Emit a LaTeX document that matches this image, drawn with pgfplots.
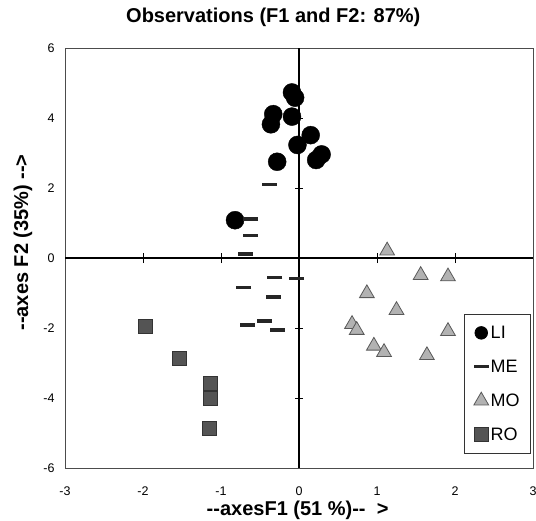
\documentclass[border=0pt]{standalone}
\usepackage{pgfplots}
\pgfplotsset{compat=1.18}
\usepackage{fontspec}
\setmainfont{Liberation Sans}

\begin{document}
\begin{tikzpicture}
\begin{axis}[
  scale only axis,
  width=468bp, height=420bp,
  xmin=-3, xmax=3, ymin=-6, ymax=6,
  xtick={-3,...,3}, ytick={-6,-4,...,6},
  major tick length=0pt,
  axis line style={draw=black!70, line width=0.9bp},
  tick label style={font=\fontsize{12.5bp}{15bp}\selectfont},
  /pgf/number format/assume math mode=true,
  xticklabel style={yshift=-15bp},
  yticklabel style={xshift=-7bp},
  title={\bfseries Observations (F1 and F2: 87\%)},
  title style={font=\fontsize{20bp}{24bp}\selectfont,
    at={(rel axis cs:0.445,1.0476)}, anchor=base, yshift=0pt},
  xlabel={\bfseries -{}-axesF1 (51 \%)-{}-\ \ >},
  ylabel={\bfseries -{}-axes F2 (35\%) -{}->},
  xlabel style={font=\fontsize{20bp}{24bp}\selectfont,
    at={(rel axis cs:0.497,-0.1119)}, anchor=base},
  ylabel style={font=\fontsize{20bp}{24bp}\selectfont,
    at={(rel axis cs:-0.079,0.537)}, anchor=base},
  legend style={at={(rel axis cs:0.996,0.033)}, anchor=south east,
    draw=black!80, line width=0.8bp,
    font=\fontsize{18bp}{21bp}\selectfont,
    row sep=16bp, inner xsep=9bp, inner ysep=10bp,
    cells={anchor=west}},
  legend image code/.code={\draw[mark repeat=2,mark phase=2]
    plot coordinates {(0bp,0bp)(7.5bp,0bp)(15bp,0bp)};},
  clip=false,
]
% zero axes with crossing ticks
\draw[black, line width=1.2bp] (axis cs:-3,0) -- (axis cs:3,0);
\draw[black, line width=1.2bp] (axis cs:0,-6) -- (axis cs:0,6);
\pgfplotsinvokeforeach{-2,-1,0,1,2}{
  \draw[black, line width=0.9bp] ([yshift=-5bp]axis cs:#1,0) -- ([yshift=5bp]axis cs:#1,0);
}
\pgfplotsinvokeforeach{-4,-2,2,4}{
  \draw[black, line width=0.9bp] ([xshift=-4bp]axis cs:0,#1) -- ([xshift=4bp]axis cs:0,#1);
}

\addplot[only marks, mark=*, mark size=9bp, fill=black, draw=black,
  legend image post style={mark size=6.3bp}] coordinates {
  (-0.09,4.73) (-0.05,4.58) (-0.33,4.11) (-0.36,3.82) (-0.09,4.04)
  (0.15,3.51) (-0.02,3.23) (0.29,2.96) (0.22,2.80) (-0.28,2.75)
  (-0.82,1.08)
};
\addlegendentry{LI}

\addplot[only marks, mark=-, mark size=7.5bp, draw=black!85, line width=3.5bp] coordinates {
  (-0.38,2.10) (-0.62,1.11) (-0.62,0.64) (-0.69,0.12) (-0.31,-0.55)
  (-0.03,-0.58) (-0.71,-0.84) (-0.33,-1.11) (-0.44,-1.80) (-0.66,-1.92)
  (-0.28,-2.05)
};
\addlegendentry{ME}

\addplot[only marks, mark=triangle*, mark size=8.5bp, fill=black!30, draw=black!65, line width=0.8bp] coordinates {
  (1.13,0.21) (1.56,-0.49) (1.91,-0.53) (0.87,-1.01) (1.25,-1.49)
  (0.68,-1.89) (0.74,-2.06) (1.91,-2.09) (0.96,-2.51) (1.09,-2.69)
  (1.64,-2.78)
};
\addlegendentry{MO}

\addplot[only marks, mark=square*, mark size=7bp, fill=black!67, draw=black!80, line width=0.7bp] coordinates {
  (-1.97,-1.94) (-1.54,-2.86) (-1.14,-3.58) (-1.14,-4.01) (-1.15,-4.86)
};
\addlegendentry{RO}

\coordinate (ll) at (rel axis cs:0,0);
\coordinate (ur) at (rel axis cs:1,1);
\end{axis}
% page margins as in the reference
\pgfresetboundingbox
\path ([xshift=-65bp,yshift=-52bp]ll) rectangle ([xshift=3bp,yshift=48bp]ur);
\end{tikzpicture}
\end{document}
